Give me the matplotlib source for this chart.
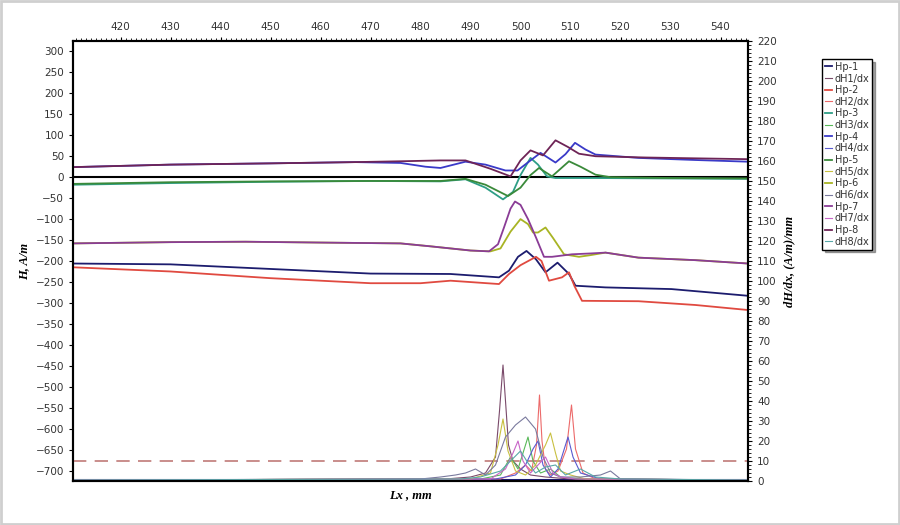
import matplotlib
matplotlib.use("Agg")
import matplotlib.pyplot as plt
from matplotlib.ticker import MultipleLocator
from matplotlib.patches import Rectangle

# --- H curves (left axis, A/m) ---
hp1_x = [410.5, 430, 450, 470, 486, 495.7, 497.7, 499.5, 501.2, 503.1, 505, 507.4, 509.7, 511, 517, 530.2, 545.5]
hp1_y = [-206, -208, -219, -230, -231, -239, -223, -190, -176, -196, -227, -204, -231, -259, -263, -267, -283]

hp2_x = [410.5, 430, 450, 470, 480, 486, 495.7, 497.7, 500, 503.1, 504.2, 505.7, 508.3, 509.7, 510.8, 512.3, 523.6, 535, 545.5]
hp2_y = [-215, -225, -241, -253, -253, -247, -255, -231, -210, -190, -200, -247, -239, -227, -260, -295, -296, -305, -317]

hp3_x = [410.5, 430, 450, 470, 484, 489, 493, 496.5, 498.5, 500, 502, 503.5, 505.3, 507, 515, 530, 545.5]
hp3_y = [-18, -14, -11, -9, -10, -5, -25, -53, -35, 5, 46, 30, 2, -2, -2, -3, -4]

hp4_x = [410.5, 430, 450, 467, 476, 481, 484, 489, 493, 497, 499.4, 502, 504, 507, 509, 510.9, 513, 515, 523.6, 535, 545.5]
hp4_y = [24, 30, 33, 36, 34, 25, 22, 37, 30, 16, 16, 40, 58, 35, 55, 82, 66, 54, 46, 41, 37]

hp5_x = [410.5, 430, 450, 470, 484, 489, 493, 497.5, 500, 502, 503.7, 506.3, 508, 509.7, 512, 515, 518, 530, 545.5]
hp5_y = [-16, -12, -10, -9, -9, -4, -18, -45, -25, 5, 22, 2, 20, 38, 25, 6, 0, -2, -3]

hp6_x = [410.5, 430, 445, 460, 476, 482, 486, 490, 494, 496, 498, 500, 501.5, 502.5, 503.5, 505, 506.5, 508.7, 511.7, 514, 517, 523.6, 535, 545.5]
hp6_y = [-158, -155, -154, -156, -158, -165, -170, -175, -177, -170, -130, -100, -112, -132, -132, -120, -145, -184, -190, -186, -180, -192, -198, -206]

hp7_x = [410.5, 430, 445, 460, 476, 482, 486, 490, 493.7, 495.5, 496.7, 498, 498.9, 500, 501.5, 503.1, 504.7, 506.3, 510.3, 514, 517, 523.6, 535, 545.5]
hp7_y = [-158, -155, -154, -156, -158, -165, -170, -175, -177, -160, -120, -75, -58, -66, -100, -144, -190, -190, -184, -182, -180, -192, -198, -206]

hp8_x = [410.5, 430, 450, 467, 476, 484, 489, 494, 498, 500, 502, 504.5, 507, 509.5, 511.7, 515, 525, 535, 545.5]
hp8_y = [24, 30, 33, 36, 38, 40, 40, 20, 2, 40, 64, 52, 88, 72, 56, 50, 47, 45, 43]

# --- dH/dx curves (right axis, (A/m)/mm) ---
dh1_x = [410.5, 485, 490, 493, 495, 495.8, 496.5, 497.0, 497.6, 498.5, 500, 502, 505, 510, 545.5]
dh1_y = [0.5, 1, 2, 4, 12, 35, 58, 40, 18, 10, 6, 3, 2, 1, 0.5]

dh2_x = [410.5, 496, 499, 501, 502.2, 503.2, 503.8, 504.3, 505, 506, 507.5, 509.2, 510.2, 511, 512.5, 515, 545.5]
dh2_y = [0.5, 1, 4, 8, 5, 18, 43, 20, 6, 3, 5, 16, 38, 16, 4, 1, 0.5]

dh3_x = [410.5, 492, 496, 498, 499.5, 500.5, 501.5, 502.5, 504, 506, 508, 512, 545.5]
dh3_y = [0.5, 1, 3, 12, 6, 14, 22, 10, 4, 6, 2, 1, 0.5]

dh4_x = [410.5, 495, 499, 501, 502.5, 503.5, 504.5, 506, 507.5, 508.5, 509.5, 510.5, 512, 516, 545.5]
dh4_y = [0.5, 1, 3, 8, 16, 20, 8, 2, 6, 14, 22, 12, 4, 1, 0.5]

dh5_x = [410.5, 490, 494, 495.5, 496.5, 497.5, 499, 501, 503, 505, 506, 507, 508, 510, 513, 545.5]
dh5_y = [0.5, 1, 4, 18, 31, 15, 5, 3, 8, 18, 24, 14, 5, 3, 1, 0.5]

dh6_x = [410.5, 480, 484, 487, 489, 491, 493, 495, 497, 499, 501, 503, 504.5, 506, 508, 512, 516, 518, 520, 545.5]
dh6_y = [0.5, 1, 2, 3, 4, 6, 3, 8, 22, 28, 32, 26, 12, 4, 2, 2, 3, 5, 1, 0.5]

dh7_x = [410.5, 494, 497, 498.5, 499.5, 500.5, 502, 503.5, 505, 506.5, 508, 511, 545.5]
dh7_y = [0.5, 1, 6, 14, 20, 10, 4, 8, 12, 4, 2, 1, 0.5]

dh8_x = [410.5, 488, 492, 496, 498, 500, 501.5, 503, 505, 507, 509, 512, 515, 520, 545.5]
dh8_y = [0.5, 1, 2, 5, 10, 15, 9, 4, 7, 8, 3, 6, 2, 1, 0.5]

threshold = 10

hp_data = [(hp1_x, hp1_y), (hp2_x, hp2_y), (hp3_x, hp3_y), (hp4_x, hp4_y),
           (hp5_x, hp5_y), (hp6_x, hp6_y), (hp7_x, hp7_y), (hp8_x, hp8_y)]
dh_data = [(dh1_x, dh1_y), (dh2_x, dh2_y), (dh3_x, dh3_y), (dh4_x, dh4_y),
           (dh5_x, dh5_y), (dh6_x, dh6_y), (dh7_x, dh7_y), (dh8_x, dh8_y)]

hp_colors = ['#1c1c6e', '#e04a40', '#2e9e86', '#3a3ac8', '#3a8a3a', '#a8b424', '#8a3c96', '#6e2456']
dh_colors = ['#7a4a6a', '#ec6a6a', '#58b858', '#5a5ad0', '#c8c040', '#7a7a9e', '#c864c8', '#58a8a8']

serif_bi = dict(family='Liberation Serif', fontweight='bold', fontstyle='italic')

fig = plt.figure(figsize=(9, 5.25), dpi=100)
fig.patch.set_facecolor('white')
fig.patches.append(Rectangle((0.001, 0.002), 0.998, 0.996, transform=fig.transFigure,
                             fill=False, edgecolor='#cfcfcf', linewidth=2))

ax = fig.add_axes([73 / 900, 1 - 481 / 525, 675 / 900, 440 / 525])
ax2 = ax.twinx()

# left axis: H
ax.axhline(0, color='black', lw=1.5, zorder=3)
hp_lines = []
for i, ((x, y), c) in enumerate(zip(hp_data, hp_colors)):
    ln, = ax.plot(x, y, color=c, lw=1.3, label=f'Hp-{i + 1}', zorder=4)
    hp_lines.append(ln)

# right axis: dH/dx
ax2.axhline(threshold, color='#c07a78', lw=1.2, dashes=(8, 5))
ax2.axhline(0.5, color='#1c1c6e', lw=2.2)
dh_lines = []
for i, ((x, y), c) in enumerate(zip(dh_data, dh_colors)):
    ln, = ax2.plot(x, y, color=c, lw=0.8, label=f'dH{i + 1}/dx')
    dh_lines.append(ln)

ax.set_xlim(410.5, 545.5)
ax.set_ylim(-725, 325)
ax2.set_ylim(0, 220)

ax.xaxis.tick_top()
ax.set_xticks(range(420, 541, 10))
ax.xaxis.set_minor_locator(MultipleLocator(1))
ax.set_yticks(range(-700, 301, 50))
ax2.set_yticks(range(0, 221, 10))
ax2.yaxis.set_minor_locator(MultipleLocator(2))

for a in (ax, ax2):
    a.tick_params(labelsize=7.5, labelcolor='#333333', length=3, width=0.8)
    a.tick_params(which='minor', length=2, width=0.6)
    for s in a.spines.values():
        s.set_linewidth(1.5)
        s.set_color('black')

ax.xaxis.set_label_position('bottom')
ax.set_xlabel('Lx , mm', fontsize=9, labelpad=6, **serif_bi)
ax.set_ylabel('H, A/m', fontsize=9, labelpad=4, **serif_bi)
ax2.set_ylabel('dH/dx, (A/m)/mm', fontsize=9, labelpad=5, **serif_bi)

# legend, paired order
handles, labels = [], []
for h, d in zip(hp_lines, dh_lines):
    handles += [h, d]
    labels += [h.get_label(), d.get_label()]
leg = fig.legend(handles, labels, loc='upper left', bbox_to_anchor=(0.908, 0.897),
                 fontsize=7, handlelength=0.7, handletextpad=0.3, labelspacing=0.17,
                 borderpad=0.3, fancybox=False, edgecolor='black', shadow=True, framealpha=1)
for t in leg.get_texts():
    t.set_color('#333333')

fig.savefig('out.png', dpi=100)
